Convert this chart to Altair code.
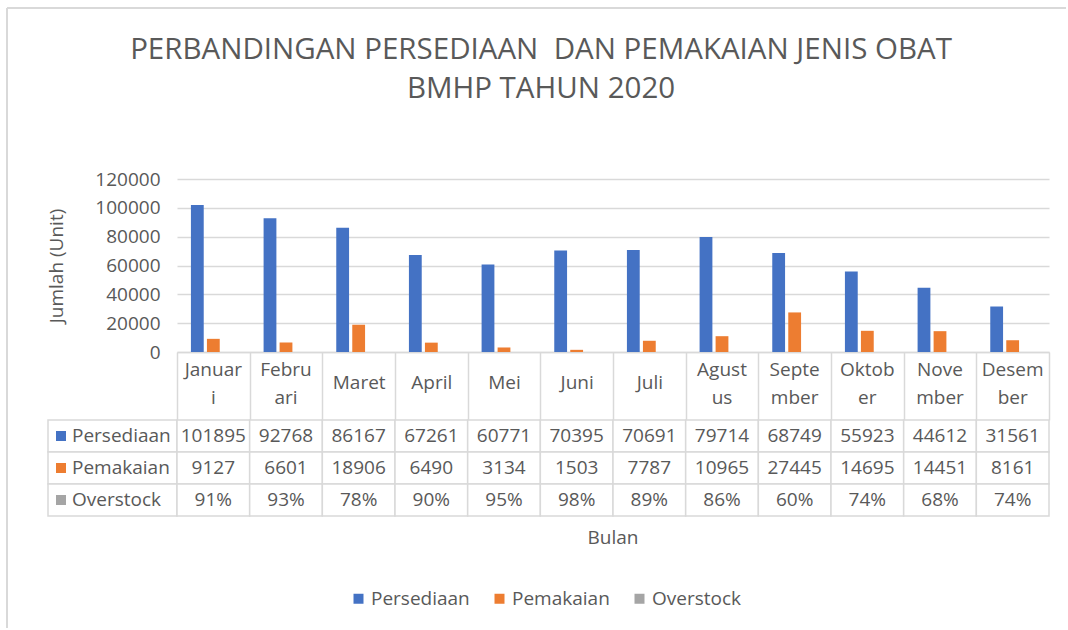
import altair as alt
import pandas as pd

# ---- data ----
months = ["Januari", "Februari", "Maret", "April", "Mei", "Juni", "Juli",
          "Agustus", "September", "Oktober", "November", "Desember"]
header_lines = [["Januar", "i"], ["Febru", "ari"], ["Maret"], ["April"], ["Mei"],
                ["Juni"], ["Juli"], ["Agust", "us"], ["Septe", "mber"],
                ["Oktob", "er"], ["Nove", "mber"], ["Desem", "ber"]]
persediaan = [101895, 92768, 86167, 67261, 60771, 70395, 70691, 79714, 68749, 55923, 44612, 31561]
pemakaian = [9127, 6601, 18906, 6490, 3134, 1503, 7787, 10965, 27445, 14695, 14451, 8161]
overstock = [0.91, 0.93, 0.78, 0.90, 0.95, 0.98, 0.89, 0.86, 0.60, 0.74, 0.68, 0.74]
series = ["Persediaan", "Pemakaian", "Overstock"]
colors = ["#4472C4", "#ED7D31", "#A5A5A5"]
y_ticks = [0, 20000, 40000, 60000, 80000, 100000, 120000]
title_lines = ["PERBANDINGAN PERSEDIAAN \u00a0DAN PEMAKAIAN JENIS OBAT", "BMHP TAHUN 2020"]

TXT = "#595959"
GRID = "#d9d9d9"
FONT = "Open Sans"
FS = 19

rows = []
for name, vals in zip(series, [persediaan, pemakaian, overstock]):
    for m, v in zip(months, vals):
        txt = f"{round(v * 100)}%" if name == "Overstock" else str(v)
        rows.append({"month": m, "series": name, "value": v, "text": txt})
df = pd.DataFrame(rows)
month_df = pd.DataFrame({"month": months})

# header label lookups: one axis for one-line names, one for wrapped names
month_list = "[" + ", ".join("'%s'" % m for m in months) + "]"
single_list = "[" + ", ".join(
    ("'%s'" % l[0]) if len(l) == 1 else "''" for l in header_lines) + "]"
double_list = "[" + ", ".join(
    ("['%s', '%s']" % (l[0], l[1])) if len(l) == 2 else "''" for l in header_lines) + "]"
single_expr = "%s[indexof(%s, datum.value)]" % (single_list, month_list)
double_expr = "%s[indexof(%s, datum.value)]" % (double_list, month_list)

color_scale = alt.Scale(domain=series, range=colors)
x_scale = alt.Scale(paddingInner=0, paddingOuter=0)

# ---- bar chart ----
bars = alt.Chart(df).mark_bar().encode(
    x=alt.X("month:N", sort=months, scale=x_scale,
            axis=alt.Axis(title=None, orient="bottom", labelExpr=single_expr, labelAngle=0,
                          labelBaseline="middle", labelPadding=-38,
                          labelOverlap=False, labelFontSize=FS, labelColor=TXT, labelFont=FONT,
                          tickBand="extent", tickExtra=True, tickSize=68,
                          tickColor=GRID, tickWidth=1.5,
                          domainColor=GRID, domainWidth=1.5)),
    xOffset=alt.XOffset("series:N", sort=series,
                        scale=alt.Scale(paddingInner=0.2, paddingOuter=0.87)),
    y=alt.Y("value:Q", scale=alt.Scale(domain=[0, 120000], nice=False),
            axis=alt.Axis(values=y_ticks, format="d", title="Jumlah (Unit)",
                          domain=False, ticks=False, labelPadding=17,
                          labelFontSize=FS, labelColor=TXT, labelFont=FONT,
                          gridColor=GRID, gridWidth=1.5,
                          titleFontSize=FS, titleFontWeight="normal", titleColor=TXT,
                          titleFont=FONT, titlePadding=28)),
    color=alt.Color("series:N", sort=series, scale=color_scale,
                    legend=alt.Legend(title=None, orient="none", legendX=301, legendY=410,
                                      direction="horizontal", symbolType="square",
                                      symbolSize=100, symbolStrokeWidth=0,
                                      labelFontSize=FS, labelColor=TXT, labelFont=FONT,
                                      labelOffset=3, columnPadding=20, padding=0)),
)

wrapped_axis = alt.Chart(month_df).mark_bar(opacity=0).encode(
    x=alt.X("month:N", sort=months, scale=x_scale,
            axis=alt.Axis(title=None, orient="bottom", labelExpr=double_expr, labelAngle=0,
                          labelBaseline="middle", labelPadding=17.5, labelLineHeight=27.5,
                          labelOverlap=False, labelFontSize=FS, labelColor=TXT, labelFont=FONT,
                          ticks=False, domain=False)),
)

chart_top = alt.layer(bars, wrapped_axis).resolve_axis(x="independent").properties(
    width=872, height=173,
    title=alt.TitleParams(text=title_lines, fontSize=29.5, fontWeight="normal", color=TXT,
                          font=FONT, anchor="middle", frame="group", dx=-72,
                          offset=66, lineHeight=39),
)

# ---- blank top-left cell carrying the outer frame ----
blank_df = pd.DataFrame({"k": [0]})
frame_left = alt.Chart(blank_df).mark_rule(color=GRID, strokeWidth=2).encode(
    x=alt.value(-41), y=alt.value(-171), y2=alt.value(449))
frame_top = alt.Chart(blank_df).mark_rule(color=GRID, strokeWidth=2).encode(
    x=alt.value(-41), x2=alt.value(1018), y=alt.value(-171))
blank = alt.layer(frame_left, frame_top).properties(width=129, height=173)

# ---- table: row labels ----
row_df = pd.DataFrame({"series": series})
row_y = alt.Y("series:N", sort=series, axis=None,
              scale=alt.Scale(paddingInner=0, paddingOuter=0))
lab_rect = alt.Chart(row_df).mark_rect(fill="white", stroke=GRID, strokeWidth=1.5).encode(y=row_y)
lab_sq = alt.Chart(row_df).mark_square(size=100, opacity=1).encode(
    y=row_y, x=alt.value(13),
    color=alt.Color("series:N", sort=series, scale=color_scale, legend=None))
lab_txt = alt.Chart(row_df).mark_text(align="left", fontSize=FS, color=TXT, font=FONT).encode(
    y=row_y, x=alt.value(24), text="series:N")
labels = alt.layer(lab_rect, lab_sq, lab_txt).properties(width=129, height=96)

# ---- table: values ----
cell_x = alt.X("month:N", sort=months, axis=None,
               scale=alt.Scale(paddingInner=0, paddingOuter=0))
cells = alt.Chart(df).mark_rect(fill="white", stroke=GRID, strokeWidth=1.5).encode(
    x=cell_x, y=row_y)
cell_txt = alt.Chart(df).mark_text(fontSize=FS, color=TXT, font=FONT).encode(
    x=cell_x, y=row_y, text="text:N")
values = alt.layer(cells, cell_txt).properties(
    width=872, height=96,
    title=alt.TitleParams(text="Bulan", orient="bottom", fontSize=FS, fontWeight="normal",
                          color=TXT, font=FONT, anchor="middle", offset=12),
)

chart = alt.concat(
    blank, chart_top, labels, values, columns=2,
    spacing={"row": 68, "column": 0}, bounds="flush",
).properties(
    padding={"left": 6, "top": 7, "right": 0, "bottom": 0},
).configure(font=FONT).configure_view(strokeWidth=0)

chart.save("out.html", embed_options={"renderer": "svg", "actions": False})
